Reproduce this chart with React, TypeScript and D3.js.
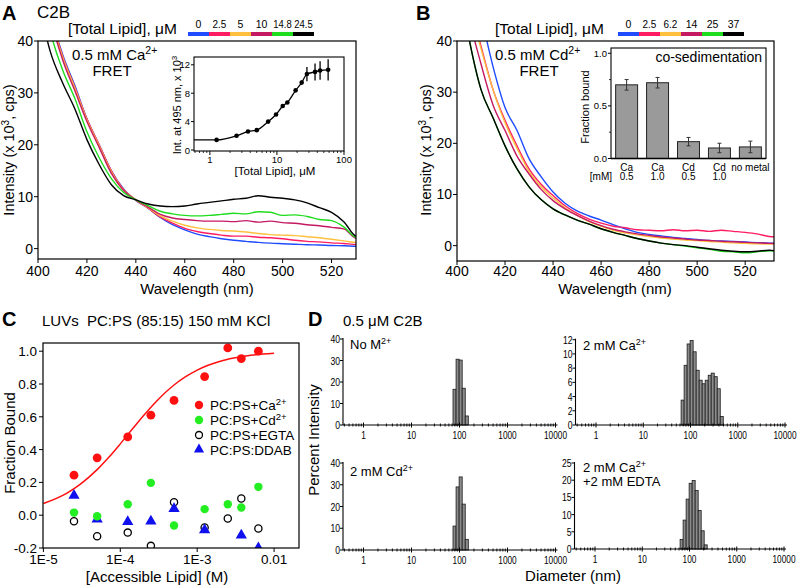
import React from "react";
import * as d3 from "d3";

const FONT = "'Liberation Sans', Arial, Helvetica, sans-serif";

// ---------- Panels A / B : emission spectra ----------
const wavelengths = [400, 405, 410, 415, 420, 425, 430, 435, 440, 445, 450, 455, 460, 465, 470, 475, 480, 485, 490, 495, 500, 505, 510, 515, 520, 525, 530, 535];
const lipidLabelsA = ["0", "2.5", "5", "10", "14.8", "24.5"];
const lipidLabelsB = ["0", "2.5", "6.2", "14", "25", "37"];
const lipidColors = ["#1f4cff", "#ff1c62", "#ffbf3f", "#c41a62", "#1fdc1f", "#000000"];

const specA0 = [62, 46, 37.5, 31.5, 25, 20, 15, 11.5, 9.3, 7.8, 6.0, 4.6, 3.6, 2.8, 2.3, 1.9, 1.6, 1.4, 1.2, 1.05, 0.95, 0.85, 0.75, 0.7, 0.6, 0.55, 0.45, 0.4];
const specA1 = [61.5, 46, 37.2, 31.2, 25, 20, 15, 11.4, 9.35, 7.8, 6.1, 4.9, 3.9, 3.3, 2.9, 2.6, 2.4, 2.4, 2.2, 2.1, 1.9, 1.6, 1.4, 1.3, 1.1, 1.0, 0.8, 0.8];
const specA2 = [61, 45.5, 37, 31, 24.8, 19.8, 14.8, 11.3, 9.4, 7.9, 6.3, 5.3, 4.5, 4.0, 3.7, 3.5, 3.4, 3.2, 2.9, 2.7, 2.6, 2.5, 2.3, 2.1, 1.8, 1.5, 1.2, 1.2];
const specA3 = [60, 45, 36.5, 30.5, 24.5, 19.5, 14.5, 11.2, 9.4, 8.0, 6.6, 5.9, 5.6, 5.4, 5.3, 5.3, 5.2, 5.4, 5.1, 5.3, 5.0, 4.9, 4.6, 4.4, 4.1, 3.8, 2.0, 1.8];
const specA4 = [55, 42, 34.5, 29, 22.5, 17.5, 13.5, 10.8, 9.4, 8.3, 7.2, 6.7, 6.4, 6.3, 6.4, 6.6, 6.8, 6.7, 7.1, 7.0, 6.4, 6.5, 6.2, 5.6, 5.4, 4.2, 2.2, 2.0];
const specA5 = [48, 38, 32, 27, 21, 16.2, 12.3, 10.2, 9.4, 8.6, 8.2, 8.1, 8.2, 8.6, 8.9, 9.2, 9.5, 9.7, 10.2, 9.9, 9.7, 9.4, 8.8, 7.9, 7.0, 5.2, 2.4, 2.0];

const specB0 = [70, 55, 45, 35, 27, 22.5, 17, 13.5, 10.5, 8.3, 6.8, 5.8, 5.0, 4.1, 3.3, 2.6, 2.2, 1.9, 1.6, 1.4, 1.2, 1.0, 0.9, 0.8, 0.7, 0.6, 0.5, 0.45];
const specB1 = [64, 48, 39, 30.5, 24.5, 19.5, 15, 12, 9.8, 7.8, 6.3, 5.2, 4.4, 3.8, 3.5, 3.1, 3.0, 2.9, 3.1, 2.9, 3.0, 2.8, 3.0, 2.8, 2.6, 2.3, 1.8, 1.7];
const specB2 = [63, 47.5, 38.5, 30.5, 24, 19, 14.5, 11.5, 9.3, 7.4, 5.9, 4.7, 3.8, 3.0, 2.5, 2.1, 1.8, 1.5, 1.3, 1.1, 1.0, 0.8, 0.7, 0.55, 0.45, 0.35, 0.3, 0.3];
const specB3 = [60, 45, 35.5, 27.5, 22.5, 17.5, 14, 11, 8.8, 7.2, 5.9, 4.8, 3.9, 3.2, 2.7, 2.3, 2.0, 1.7, 1.5, 1.3, 1.1, 1.0, 0.85, 0.75, 0.65, 0.55, 0.45, 0.4];
const specB4 = [54, 40.5, 30.5, 25, 19.5, 15, 11.5, 9.0, 7.2, 6.0, 5.0, 4.2, 3.3, 2.6, 2.0, 1.4, 0.9, 0.5, 0.2, -0.1, -0.4, -0.7, -1.1, -1.2, -1.4, -1.2, -1.0, -1.3];
const specB5 = [54, 40.5, 30.5, 25, 19.5, 15, 11.5, 9.0, 7.2, 6.0, 5.0, 4.2, 3.3, 2.6, 2.0, 1.4, 0.9, 0.5, 0.2, 0.0, -0.3, -0.6, -0.9, -1.1, -1.2, -1.1, -0.9, -1.2];

const spectraTicksX = [400, 420, 440, 460, 480, 500, 520];
const spectraTicksY = [0, 10, 20, 30, 40];

// inset A
const insetLipid = [1.26, 2.5, 3.7, 5.0, 7.4, 9.7, 12.2, 14.3, 19, 23.4, 28, 37, 44, 58];
const insetInt = [1.42, 2.0, 2.6, 2.8, 4.0, 5.0, 6.2, 6.7, 8.4, 9.5, 10.7, 11.0, 11.2, 11.3];
const insetErr = [0.1, 0.1, 0.1, 0.1, 0.1, 0.1, 0.1, 0.1, 0.2, 0.3, 1.0, 1.2, 1.3, 1.5];
const insetTicksY = [0, 4, 8, 12];
const insetTicksX = [1, 10, 100];

// inset B
const sedMetal = ["Ca", "Ca", "Cd", "Cd", "no metal"];
const sedConc = ["0.5", "1.0", "0.5", "1.0", ""];
const sedBound = [0.70, 0.72, 0.16, 0.10, 0.11];
const sedErr = [0.05, 0.05, 0.04, 0.045, 0.055];
const sedTicks = [0, 0.5, 1.0];

// ---------- Panel C ----------
const accLipid = [2.5e-5, 5e-5, 1.25e-4, 2.5e-4, 5e-4, 1.25e-3, 2.5e-3, 3.75e-3, 6.25e-3];
const caBound = [0.244, 0.35, 0.477, 0.61, 0.70, 0.845, 1.02, 0.955, 1.0];
const cdBound = [0.016, -0.006, 0.067, 0.197, -0.063, 0.037, 0.067, 0.047, 0.173];
const egtaBound = [-0.037, -0.128, -0.106, -0.187, 0.079, -0.075, -0.02, 0.102, -0.081];
const ddabBound = [0.12, -0.025, -0.04, -0.037, 0.04, -0.09, null, -0.122, -0.2];
const fitLipid = [1e-5, 2e-5, 3e-5, 5e-5, 7e-5, 1e-4, 1.5e-4, 2e-4, 3e-4, 5e-4, 7e-4, 1e-3, 2e-3, 3e-3, 5e-3, 1e-2];
const fitBound = [0.071, 0.133, 0.188, 0.278, 0.35, 0.435, 0.536, 0.606, 0.698, 0.794, 0.843, 0.885, 0.939, 0.958, 0.975, 0.987];
const cTicksX = [1e-5, 1e-4, 1e-3, 1e-2];
const cTickLabelsX = ["1E-5", "1E-4", "1E-3", "0.01"];
const cTicksY = [-0.2, 0.0, 0.2, 0.4, 0.6, 0.8, 1.0];

// ---------- Panel D ----------
const noMetalSizes = [78.82, 91.28, 105.7, 122.4, 141.8];
const noMetalPct = [16.6, 30.6, 30.2, 17.1, 4.2];
const caSizes = [68.06, 78.82, 91.28, 105.7, 122.4, 141.8, 164.2, 190.1, 220.2, 255.0, 295.3, 342.0, 396.1, 458.7];
const caPct = [3.5, 8.4, 11.4, 11.9, 10.3, 7.7, 6.3, 5.8, 6.3, 7.0, 7.3, 6.8, 5.1, 1.2];
const cdSizes = [78.82, 91.28, 105.7, 122.4, 141.8];
const cdPct = [11, 29, 33.6, 21.1, 4.9];
const edtaSizes = [68.06, 78.82, 91.28, 105.7, 122.4, 141.8, 164.2, 190.1, 220.2];
const edtaPct = [2.8, 8.4, 14.5, 19.1, 19.9, 17.0, 11.2, 5.3, 1.2];
const dTicksX = [1, 10, 100, 1000, 10000];

function Spectra({ id, box, xDomain, yDomain, series }: any) {
  const [x0, y0, x1, y1] = box;
  const x = d3.scaleLinear().domain(xDomain).range([x0, x1]);
  const y = d3.scaleLinear().domain(yDomain).range([y1, y0]);
  const line = d3
    .line<number>()
    .x((_, i) => x(wavelengths[i]))
    .y((d) => y(d))
    .curve(d3.curveMonotoneX);
  return (
    <g>
      <defs>
        <clipPath id={id}>
          <rect x={x0} y={y0} width={x1 - x0} height={y1 - y0} />
        </clipPath>
      </defs>
      <g clipPath={`url(#${id})`}>
        {series.map((s: number[], i: number) => (
          <path key={i} d={line(s) || ""} fill="none" stroke={lipidColors[i]} strokeWidth={1.4} />
        ))}
      </g>
      <rect x={x0} y={y0} width={x1 - x0} height={y1 - y0} fill="none" stroke="#000" strokeWidth={1.2} />
      {spectraTicksX.map((t) => (
        <g key={t}>
          <line x1={x(t)} x2={x(t)} y1={y1} y2={y1 + 4} stroke="#000" />
          <text x={x(t)} y={276} textAnchor="middle" fontSize={14}>{t}</text>
        </g>
      ))}
      {spectraTicksY.map((t) => (
        <g key={t}>
          <line x1={x0 - 4} x2={x0} y1={y(t)} y2={y(t)} stroke="#000" />
          <text x={x0 - 5} y={y(t) + 5} textAnchor="end" fontSize={14}>{t}</text>
        </g>
      ))}
    </g>
  );
}

function LipidLegend({ x, labels }: any) {
  const w = 21;
  return (
    <g>
      {labels.map((l: string, i: number) => (
        <g key={i}>
          <rect x={x + i * w} y={32} width={w} height={4} fill={lipidColors[i]} />
          <text
            x={x + i * w + w / 2}
            y={28}
            textAnchor="middle"
            fontSize={10.5}
            textLength={l.length > 2 ? l.length * 4.6 : undefined}
            lengthAdjust="spacingAndGlyphs"
          >
            {l}
          </text>
        </g>
      ))}
    </g>
  );
}

function InsetA() {
  const x = d3.scaleLog().domain([0.58, 100]).range([194, 344]);
  const y = d3.scaleLinear().domain([-0.14, 13.1]).range([151, 57]);
  const pts: [number, number][] = [[0.58, insetInt[0]], ...insetLipid.map((l, i) => [l, insetInt[i]] as [number, number])];
  const line = d3.line<[number, number]>().x((d) => x(d[0])).y((d) => y(d[1])).curve(d3.curveMonotoneX);
  const minors: number[] = [];
  [0.1, 1, 10].forEach((e) => [2, 3, 4, 5, 6, 7, 8, 9].forEach((m) => {
    const v = m * e;
    if (v > 0.58 && v < 100) minors.push(v);
  }));
  return (
    <g>
      <rect x={194} y={57} width={150} height={94} fill="#fff" stroke="#000" strokeWidth={1.1} />
      <path d={line(pts) || ""} fill="none" stroke="#000" strokeWidth={1.3} />
      {insetLipid.map((l, i) => (
        <g key={i}>
          <line x1={x(l)} x2={x(l)} y1={y(insetInt[i] - insetErr[i])} y2={y(insetInt[i] + insetErr[i])} stroke="#000" strokeWidth={1.3} />
          <circle cx={x(l)} cy={y(insetInt[i])} r={2.3} fill="#000" />
        </g>
      ))}
      {insetTicksY.map((t) => (
        <g key={t}>
          <line x1={191} x2={194} y1={y(t)} y2={y(t)} stroke="#000" />
          <text x={190} y={y(t) + 3.5} textAnchor="end" fontSize={9.5}>{t}</text>
        </g>
      ))}
      {insetTicksX.map((t) => (
        <g key={t}>
          <line x1={x(t)} x2={x(t)} y1={151} y2={155} stroke="#000" />
          <text x={x(t)} y={163} textAnchor="middle" fontSize={9.5}>{t}</text>
        </g>
      ))}
      {minors.map((t) => (
        <line key={t} x1={x(t)} x2={x(t)} y1={151} y2={153} stroke="#000" strokeWidth={0.8} />
      ))}
      <text x={275} y={175} textAnchor="middle" fontSize={11.5}>[Total Lipid], μM</text>
      <text transform="translate(181,105) rotate(-90)" textAnchor="middle" fontSize={11}>
        Int. at 495 nm, x 10<tspan dy={-4} fontSize={8}>3</tspan>
      </text>
    </g>
  );
}

function InsetB() {
  const xb = d3.scaleBand<number>().domain(d3.range(sedBound.length)).range([611, 766]).paddingInner(0.29).paddingOuter(0.15);
  const y = d3.scaleLinear().domain([0, 1.05]).range([158.5, 48]);
  return (
    <g>
      <rect x={611} y={48} width={155} height={110.5} fill="#fff" stroke="#000" strokeWidth={1.1} />
      {sedBound.map((v, i) => (
        <g key={i}>
          <rect x={xb(i)!} y={y(v)} width={xb.bandwidth()} height={y(0) - y(v)} fill="#9a9a9a" stroke="#222" strokeWidth={1} />
          <line x1={xb(i)! + xb.bandwidth() / 2} x2={xb(i)! + xb.bandwidth() / 2} y1={y(v - sedErr[i])} y2={y(v + sedErr[i])} stroke="#333" strokeWidth={1} />
          <line x1={xb(i)! + xb.bandwidth() / 2 - 2} x2={xb(i)! + xb.bandwidth() / 2 + 2} y1={y(v - sedErr[i])} y2={y(v - sedErr[i])} stroke="#333" />
          <line x1={xb(i)! + xb.bandwidth() / 2 - 2} x2={xb(i)! + xb.bandwidth() / 2 + 2} y1={y(v + sedErr[i])} y2={y(v + sedErr[i])} stroke="#333" />
          <text x={xb(i)! + xb.bandwidth() / 2} y={170.5} textAnchor="middle" fontSize={10}>{sedMetal[i]}</text>
          <text x={xb(i)! + xb.bandwidth() / 2} y={180} textAnchor="middle" fontSize={10}>{sedConc[i]}</text>
        </g>
      ))}
      <line x1={611} x2={766} y1={158.5} y2={158.5} stroke="#000" strokeWidth={1.3} />
      {sedTicks.map((t) => (
        <g key={t}>
          <line x1={608} x2={611} y1={y(t)} y2={y(t)} stroke="#000" />
          <text x={607} y={y(t) + 3.5} textAnchor="end" fontSize={9.5}>{t.toFixed(1)}</text>
        </g>
      ))}
      {[0.25, 0.75].map((t) => (
        <line key={t} x1={609} x2={611} y1={y(t)} y2={y(t)} stroke="#000" strokeWidth={0.8} />
      ))}
      <text x={612} y={180} textAnchor="end" fontSize={10}>[mM]</text>
      <text x={762} y={62} textAnchor="end" fontSize={14}>co-sedimentation</text>
      <text transform="translate(589,107) rotate(-90)" textAnchor="middle" fontSize={11}>Fraction bound</text>
    </g>
  );
}

function PanelC() {
  const x = d3.scaleLog().domain([1e-5, 0.0211]).range([43.4, 299]);
  const y = d3.scaleLinear().domain([-0.2, 1.05]).range([548, 343]);
  const fit = d3.line<number>().x((_, i) => x(fitLipid[i])).y((d) => y(d)).curve(d3.curveMonotoneX);
  const tri = d3.symbol().type(d3.symbolTriangle).size(55)() || "";
  const triLeg = d3.symbol().type(d3.symbolTriangle).size(45)() || "";
  return (
    <g>
      <defs>
        <clipPath id="clipC">
          <rect x={43} y={343} width={256} height={205} />
        </clipPath>
      </defs>
      <g clipPath="url(#clipC)">
        <path d={fit(fitBound) || ""} fill="none" stroke="#ff1010" strokeWidth={1.5} />
        {accLipid.map((l, i) => (
          <circle key={"e" + i} cx={x(l)} cy={y(egtaBound[i])} r={3.6} fill="none" stroke="#000" strokeWidth={1.3} />
        ))}
        {accLipid.map((l, i) =>
          ddabBound[i] === null ? null : (
            <path key={"d" + i} d={tri} transform={`translate(${x(l)},${y(ddabBound[i] as number)})`} fill="#1010ee" />
          )
        )}
        {accLipid.map((l, i) => (
          <circle key={"g" + i} cx={x(l)} cy={y(cdBound[i])} r={4.2} fill="#22ee22" />
        ))}
        {accLipid.map((l, i) => (
          <circle key={"r" + i} cx={x(l)} cy={y(caBound[i])} r={4.4} fill="#ff1010" />
        ))}
      </g>
      <rect x={43} y={343} width={256} height={205} fill="none" stroke="#000" strokeWidth={1.2} />
      {cTicksX.map((t, i) => (
        <g key={t}>
          <line x1={x(t)} x2={x(t)} y1={548} y2={552} stroke="#000" />
          <text x={x(t)} y={564} textAnchor="middle" fontSize={13.5}>{cTickLabelsX[i]}</text>
        </g>
      ))}
      {cTicksY.map((t) => (
        <g key={t}>
          <line x1={39} x2={43} y1={y(t)} y2={y(t)} stroke="#000" />
          <text x={37} y={y(t) + 5} textAnchor="end" fontSize={13.5}>{t.toFixed(1)}</text>
        </g>
      ))}
      <text x={157} y={582} textAnchor="middle" fontSize={15}>[Accessible Lipid] (M)</text>
      <text transform="translate(15,443) rotate(-90)" textAnchor="middle" fontSize={15}>Fraction Bound</text>
      {/* legend */}
      <circle cx={199} cy={405} r={4.2} fill="#ff1010" />
      <circle cx={199} cy={420} r={4.2} fill="#22ee22" />
      <circle cx={199} cy={435} r={3.5} fill="none" stroke="#000" strokeWidth={1.3} />
      <path d={triLeg} transform="translate(199,449.5)" fill="#1010ee" />
      <g fontSize={13.5}>
        <text x={210} y={410}>PC:PS+Ca<tspan dy={-5} fontSize={9.5}>2+</tspan></text>
        <text x={210} y={425}>PC:PS+Cd<tspan dy={-5} fontSize={9.5}>2+</tspan></text>
        <text x={210} y={440}>PC:PS+EGTA</text>
        <text x={210} y={455}>PC:PS:DDAB</text>
      </g>
      <text x={2} y={326} fontSize={20} fontWeight="bold">C</text>
      <text x={42} y={326} fontSize={15}>{"LUVs\u00a0\u00a0PC:PS (85:15) 150 mM KCl"}</text>
    </g>
  );
}

function Hist({ left, xr, base, top, yMax, yTicks, sizes, pct }: any) {
  const x = d3.scaleLog().domain([1, 10000]).range(xr);
  const y = d3.scaleLinear().domain([0, yMax]).range([base, top]);
  const right = x(10000) + 2;
  const logs = sizes.map((s: number) => Math.log10(s));
  const minors: number[] = [];
  [0.1, 1, 10, 100, 1000].forEach((e) => [2, 3, 4, 5, 6, 7, 8, 9].forEach((m) => {
    const v = m * e;
    if (x(v) > left + 1 && v < 10000) minors.push(v);
  }));
  return (
    <g>
      {sizes.map((s: number, i: number) => {
        const step = i < logs.length - 1 ? logs[i + 1] - logs[i] : logs[i] - logs[i - 1];
        const lo = x(Math.pow(10, logs[i] - step / 2));
        const hi = x(Math.pow(10, logs[i] + step / 2));
        return <rect key={i} x={lo} y={y(pct[i])} width={hi - lo} height={base - y(pct[i])} fill="#8c8c8c" stroke="#1a1a1a" strokeWidth={0.8} />;
      })}
      <line x1={left} x2={left} y1={top - 1} y2={base} stroke="#000" strokeWidth={1.1} />
      <line x1={left} x2={right} y1={base} y2={base} stroke="#000" strokeWidth={1.1} />
      {yTicks.map((t: number) => (
        <g key={t}>
          <line x1={left - 3} x2={left} y1={y(t)} y2={y(t)} stroke="#000" />
          <text
            x={left - 3}
            y={y(t) + 4}
            textAnchor="end"
            fontSize={10.5}
            textLength={String(t).length * 4.8}
            lengthAdjust="spacingAndGlyphs"
          >
            {t}
          </text>
        </g>
      ))}
      {dTicksX.map((t) => (
        <g key={t}>
          <line x1={x(t)} x2={x(t)} y1={base - 2.5} y2={base + 2.5} stroke="#000" />
          <text
            x={x(t)}
            y={base + 14}
            textAnchor="middle"
            fontSize={10}
            textLength={String(t).length * 4.6}
            lengthAdjust="spacingAndGlyphs"
          >
            {t}
          </text>
        </g>
      ))}
      {minors.map((t) => (
        <line key={t} x1={x(t)} x2={x(t)} y1={base - 1.5} y2={base + 1.5} stroke="#000" strokeWidth={0.9} />
      ))}
    </g>
  );
}

export default function App() {
  return (
    <svg width={800} height={586} style={{ position: "absolute", left: 0, top: 0, background: "#fff" }} fontFamily={FONT} fill="#000">
      <rect x={0} y={0} width={800} height={586} fill="#fff" />
      {/* Panel A */}
      <text x={2} y={20} fontSize={20} fontWeight="bold">A</text>
      <text x={37} y={18} fontSize={17}>C2B</text>
      <text x={68} y={34} fontSize={15.5}>[Total Lipid], μM</text>
      <LipidLegend x={188} labels={lipidLabelsA} />
      <Spectra id="clipA" box={[38, 41, 356, 259]} xDomain={[400, 530]} yDomain={[-2, 40]} series={[specA0, specA1, specA2, specA3, specA4, specA5]} />
      <text x={72} y={60} fontSize={15}>0.5 mM Ca<tspan dy={-6} fontSize={10.5}>2+</tspan></text>
      <text x={112} y={76} textAnchor="middle" fontSize={15}>FRET</text>
      <InsetA />
      <text transform="translate(14,150) rotate(-90)" textAnchor="middle" fontSize={14.5}>
        Intensity  (x 10<tspan dy={-5} fontSize={10}>3</tspan><tspan dy={5}>, cps)</tspan>
      </text>
      <text x={197} y={294} textAnchor="middle" fontSize={15}>Wavelength (nm)</text>

      {/* Panel B */}
      <text x={416} y={20} fontSize={20} fontWeight="bold">B</text>
      <text x={495} y={34} fontSize={15.5}>[Total Lipid], μM</text>
      <LipidLegend x={618} labels={lipidLabelsB} />
      <Spectra id="clipB" box={[457, 41, 774, 261]} xDomain={[400, 532]} yDomain={[-3, 40]} series={[specB0, specB1, specB2, specB3, specB4, specB5]} />
      <text x={495} y={60} fontSize={15}>0.5 mM Cd<tspan dy={-6} fontSize={10.5}>2+</tspan></text>
      <text x={539} y={76} textAnchor="middle" fontSize={15}>FRET</text>
      <InsetB />
      <text transform="translate(431,150) rotate(-90)" textAnchor="middle" fontSize={14.5}>
        Intensity  (x 10<tspan dy={-5} fontSize={10}>3</tspan><tspan dy={5}>, cps)</tspan>
      </text>
      <text x={615} y={294} textAnchor="middle" fontSize={15}>Wavelength (nm)</text>

      {/* Panel C */}
      <PanelC />

      {/* Panel D */}
      <text x={308} y={326} fontSize={20} fontWeight="bold">D</text>
      <text x={343} y={326} fontSize={15}>0.5 μM C2B</text>
      <Hist left={343} xr={[363.5, 555.5]} base={425} top={339} yMax={40} yTicks={[0, 10, 20, 30, 40]} sizes={noMetalSizes} pct={noMetalPct} />
      <Hist left={575.5} xr={[596, 785]} base={425} top={339.7} yMax={12} yTicks={[0, 2, 4, 6, 8, 10, 12]} sizes={caSizes} pct={caPct} />
      <Hist left={343} xr={[363.5, 555.5]} base={550} top={463} yMax={40} yTicks={[0, 10, 20, 30, 40]} sizes={cdSizes} pct={cdPct} />
      <Hist left={574.5} xr={[595, 784]} base={549} top={463} yMax={25} yTicks={[0, 5, 10, 15, 20, 25]} sizes={edtaSizes} pct={edtaPct} />
      <g fontSize={13}>
        <text x={350} y={349}>No M<tspan dy={-5} fontSize={9}>2+</tspan></text>
        <text x={583} y={350}>2 mM Ca<tspan dy={-5} fontSize={9}>2+</tspan></text>
        <text x={350} y={476}>2 mM Cd<tspan dy={-5} fontSize={9}>2+</tspan></text>
        <text x={583} y={472}>2 mM Ca<tspan dy={-5} fontSize={9}>2+</tspan></text>
        <text x={583} y={486}>+2 mM EDTA</text>
      </g>
      <text transform="translate(319,440) rotate(-90)" textAnchor="middle" fontSize={15}>Percent Intensity</text>
      <text x={573} y={581} textAnchor="middle" fontSize={15}>Diameter (nm)</text>
    </svg>
  );
}
